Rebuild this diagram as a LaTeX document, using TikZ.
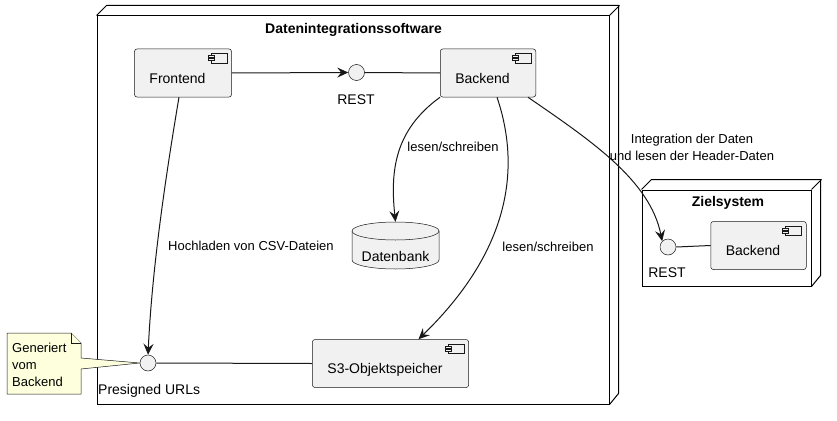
\documentclass[tikz,border=0pt]{standalone}
\usepackage{fontspec}
\setmainfont{Liberation Sans}
\usetikzlibrary{arrows.meta, calc}

\definecolor{kompfill}{HTML}{F1F1F1}
\definecolor{rand}{HTML}{181818}
\definecolor{notizfill}{HTML}{FEFFDD}

\newcommand{\schrift}[1]{\fontsize{#1}{17}\selectfont}

\tikzset{
  komponente/.style={draw=rand, line width=0.5pt, fill=kompfill, rounded corners=2.5pt,
    inner xsep=15pt, inner ysep=11pt, text height=23pt, text depth=3pt,
    minimum height=48pt, font=\schrift{14}, execute at end node={\hspace{11pt}}},
  schnitt/.style={circle, draw=rand, line width=0.5pt, fill=kompfill, minimum size=16pt, inner sep=0pt},
  knoten/.style={draw=black, line width=1pt, inner sep=0pt},
  titel/.style={font=\bfseries\schrift{14}, inner sep=0pt},
  beschr/.style={font=\schrift{14}, inner sep=0pt},
  kante/.style={font=\schrift{13}, inner sep=0pt, align=center},
  pfeil/.style={draw=rand, line width=1pt, -{Stealth[length=11pt,width=10pt,inset=4pt]}},
  linie/.style={draw=rand, line width=1pt},
  icon/.style={draw=rand, line width=0.5pt, fill=kompfill},
  notiz/.style={draw=rand, line width=0.5pt, fill=notizfill}
}

\begin{document}
\begin{tikzpicture}[x=1pt, y=-1pt]
        \useasboundingbox (0,0) rectangle (837,420);

        % Datenintegrationssoftware
        \node[knoten, minimum width=512pt, minimum height=388pt] (dis) at (353,210) {};
        \draw[line width=1pt] (dis.north west) -- ++(10,-10) -- ++(512,0) -- ++(0,388) -- (dis.south east);
        \draw[line width=1pt] (dis.north east) -- ++(10,-10);
        \node[titel] (dist) at (353.5,30) {Datenintegrationssoftware};

        \node[komponente] (fe) at (183,73) {Frontend};
        \node[schnitt] (rest) at (356.5,72.5) {};
        \node[beschr] (restl) at (356,100) {REST};
        \node[komponente, minimum width=94pt] (be) at (488,73) {Backend};
        \node[komponente] (s3) at (390.5,363.5) {S3-Objektspeicher};
        \node[schnitt] (purl) at (148,363) {};
        \node[beschr, anchor=west] (purll) at (98,391) {Presigned URLs};

        % Datenbank
        \draw[icon] (352,231) -- (352,260) arc (180:0:43.5 and 9) -- (439,231) arc (0:-180:43.5 and 9) -- cycle;
        \draw[icon] (352,231) arc (180:0:43.5 and 9);
        \node[font=\schrift{14}, minimum width=87pt, minimum height=47pt, inner sep=0pt,
              text height=34pt, text depth=3pt] (db) at (395.5,245.5) {Datenbank};

        % Zielsystem
        \node[knoten, minimum width=169pt, minimum height=96pt] (zs) at (726.5,238) {};
        \draw[line width=1pt] (zs.north west) -- ++(10,-10) -- ++(169,0) -- ++(0,96) -- (zs.south east);
        \draw[line width=1pt] (zs.north east) -- ++(10,-10);
        \node[titel] (zst) at (728,203) {Zielsystem};
        \node[komponente, minimum width=95pt] (zbe) at (758.5,245.5) {Backend};
        \node[schnitt] (zrest) at (668,247) {};
        \node[beschr] (zrestl) at (667,273) {REST};

        % Komponenten-Symbole
        \foreach \k in {fe,be,s3,zbe}{
          \draw[icon] ($(\k.north east)+(-21,5)$) rectangle ++(16,9);
          \draw[icon] ($(\k.north east)+(-24,7)$) rectangle ++(6,2);
          \draw[icon] ($(\k.north east)+(-24,10)$) rectangle ++(6,2);
        }

        % Notiz
        \draw[notiz] (7,333) -- (71,333) -- (81,343) -- (81,358) -- (purl.west) -- (81,369) -- (81,394) -- (7,394) -- cycle;
        \draw[notiz] (71,333) -- (71,343) -- (81,343);
        \node[kante, align=left, anchor=west] (notiz) at (12,365) {Generiert\\vom\\Backend};

        % Verbindungen
        \draw[pfeil] (fe.east) -- (rest.west);
        \draw[linie] (rest.east) -- (be.west);
        \draw[pfeil] (be.south west) .. controls (395,130) and (390,170) .. (db.north);
        \draw[pfeil] ([xshift=9pt]be.south) .. controls (525,180) and (500,260) .. ([xshift=28pt]s3.north);
        \draw[pfeil] ([xshift=-8pt]be.south east) .. controls (590,140) and (650,180) .. (zrest.north west);
        \draw[pfeil] ([xshift=-4pt]fe.south) .. controls (165,180) and (152,270) .. (purl.north);
        \draw[linie] (purl.east) -- (s3.west);
        \draw[linie] (zrest.east) -- (zbe.west);

        \node[kante] (l1) at (453,147) {lesen/schreiben};
        \node[kante] (l2) at (548,247) {lesen/schreiben};
        \node[kante, anchor=west] (l3) at (168,246) {Hochladen von CSV-Dateien};
        \node[kante] (l4) at (692,147) {Integration der Daten\\und lesen der Header-Daten};
\end{tikzpicture}
\end{document}
